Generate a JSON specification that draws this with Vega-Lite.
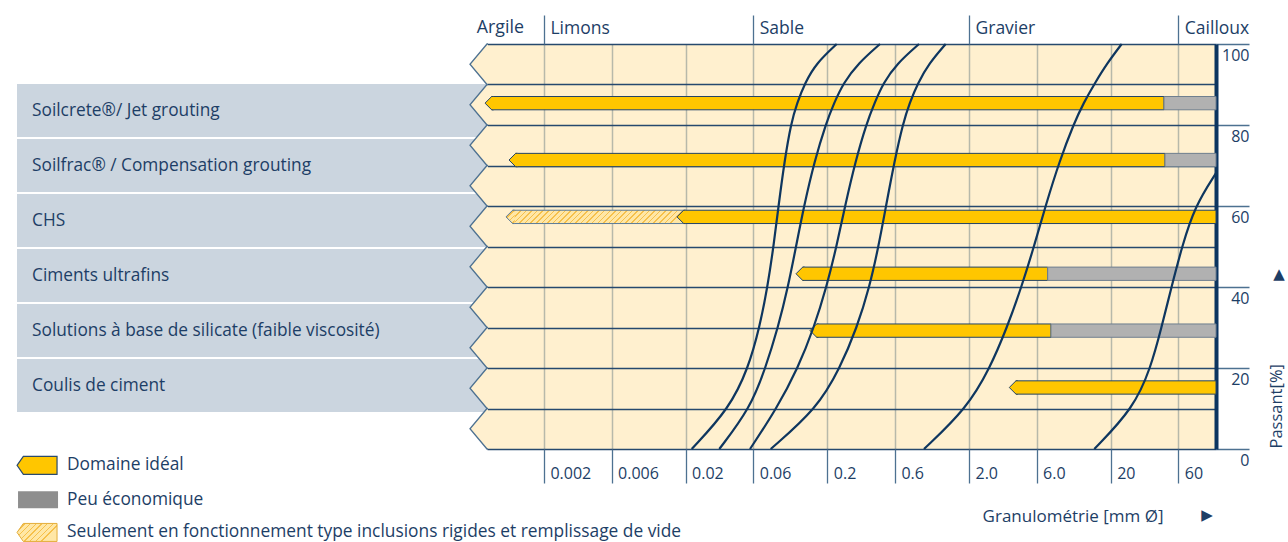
{
  "$schema": "https://vega.github.io/schema/vega-lite/v6.json",
  "width": 729,
  "height": 405,
  "autosize": {"type": "none"},
  "padding": {"left": 487, "top": 44, "right": 72, "bottom": 93},
  "background": "#ffffff",
  "config": {"view": {"fill": "#fff0cf", "stroke": null}, "text": {"font": "Open Sans"}},
  "datasets": {
    "bands": [{"mid": 5}, {"mid": 15}, {"mid": 25}, {"mid": 35}, {"mid": 45}, {"mid": 55}, {"mid": 65}, {"mid": 75}, {"mid": 85}, {"mid": 95}],
    "methods": [
      {"method": "Soilcrete®/ Jet grouting"},
      {"method": "Soilfrac® / Compensation grouting"},
      {"method": "CHS"},
      {"method": "Ciments ultrafins"},
      {"method": "Solutions à base de silicate (faible viscosité)"},
      {"method": "Coulis de ciment"}
    ],
    "bars": [
      {"method": "Soilcrete®/ Jet grouting", "type": "Domaine idéal", "from": 0.000768, "to": 47.54},
      {"method": "Soilcrete®/ Jet grouting", "type": "Peu économique", "from": 47.54, "to": 110.7},
      {"method": "Soilfrac® / Compensation grouting", "type": "Domaine idéal", "from": 0.001134, "to": 48.32},
      {"method": "Soilfrac® / Compensation grouting", "type": "Peu économique", "from": 48.32, "to": 110.7},
      {"method": "CHS", "type": "Inclusions rigides", "from": 0.00108, "to": 0.01739},
      {"method": "CHS", "type": "Domaine idéal", "from": 0.01739, "to": 110.7},
      {"method": "Ciments ultrafins", "type": "Domaine idéal", "from": 0.1203, "to": 7.184},
      {"method": "Ciments ultrafins", "type": "Peu économique", "from": 7.184, "to": 110.7},
      {"method": "Solutions à base de silicate (faible viscosité)", "type": "Domaine idéal", "from": 0.151, "to": 7.58},
      {"method": "Solutions à base de silicate (faible viscosité)", "type": "Peu économique", "from": 7.58, "to": 110.7},
      {"method": "Coulis de ciment", "type": "Domaine idéal", "from": 3.849, "to": 110.7}
    ],
    "curves": [
      {"curve": 1, "p": 0, "d": 0.02208}, {"curve": 1, "p": 10, "d": 0.04069}, {"curve": 1, "p": 20, "d": 0.0554}, {"curve": 1, "p": 30, "d": 0.06646}, {"curve": 1, "p": 40, "d": 0.07568}, {"curve": 1, "p": 50, "d": 0.08344}, {"curve": 1, "p": 60, "d": 0.09049}, {"curve": 1, "p": 71.1, "d": 0.09976}, {"curve": 1, "p": 80.4, "d": 0.1109}, {"curve": 1, "p": 85.4, "d": 0.1222}, {"curve": 1, "p": 90.4, "d": 0.1392}, {"curve": 1, "p": 95.2, "d": 0.1665}, {"curve": 1, "p": 100, "d": 0.233},
      {"curve": 2, "p": 0, "d": 0.03458}, {"curve": 2, "p": 10, "d": 0.05694}, {"curve": 2, "p": 20, "d": 0.07326}, {"curve": 2, "p": 30, "d": 0.08976}, {"curve": 2, "p": 40, "d": 0.1056}, {"curve": 2, "p": 50, "d": 0.1203}, {"curve": 2, "p": 60, "d": 0.1369}, {"curve": 2, "p": 71.1, "d": 0.1624}, {"curve": 2, "p": 80.4, "d": 0.1958}, {"curve": 2, "p": 85.4, "d": 0.223}, {"curve": 2, "p": 90.4, "d": 0.2602}, {"curve": 2, "p": 95.2, "d": 0.3293}, {"curve": 2, "p": 100, "d": 0.4709},
      {"curve": 3, "p": 0, "d": 0.05694}, {"curve": 3, "p": 10, "d": 0.08788}, {"curve": 3, "p": 20, "d": 0.1242}, {"curve": 3, "p": 30, "d": 0.1611}, {"curve": 3, "p": 40, "d": 0.1974}, {"curve": 3, "p": 50, "d": 0.2323}, {"curve": 3, "p": 60, "d": 0.2667}, {"curve": 3, "p": 71.1, "d": 0.3162}, {"curve": 3, "p": 80.4, "d": 0.3782}, {"curve": 3, "p": 85.4, "d": 0.4306}, {"curve": 3, "p": 90.4, "d": 0.4969}, {"curve": 3, "p": 95.2, "d": 0.6206}, {"curve": 3, "p": 100, "d": 0.8874},
      {"curve": 4, "p": 0, "d": 0.07972}, {"curve": 4, "p": 10, "d": 0.1692}, {"curve": 4, "p": 20, "d": 0.2459}, {"curve": 4, "p": 30, "d": 0.324}, {"curve": 4, "p": 40, "d": 0.397}, {"curve": 4, "p": 50, "d": 0.4595}, {"curve": 4, "p": 60, "d": 0.5192}, {"curve": 4, "p": 71.1, "d": 0.5959}, {"curve": 4, "p": 80.4, "d": 0.6843}, {"curve": 4, "p": 85.4, "d": 0.7605}, {"curve": 4, "p": 90.4, "d": 0.8731}, {"curve": 4, "p": 95.2, "d": 1.044}, {"curve": 4, "p": 100, "d": 1.369},
      {"curve": 5, "p": 0, "d": 0.9625}, {"curve": 5, "p": 10, "d": 1.926}, {"curve": 5, "p": 20, "d": 2.813}, {"curve": 5, "p": 30, "d": 3.709}, {"curve": 5, "p": 40, "d": 4.693}, {"curve": 5, "p": 50, "d": 5.75}, {"curve": 5, "p": 60, "d": 6.933}, {"curve": 5, "p": 71.1, "d": 8.703}, {"curve": 5, "p": 80.4, "d": 11.01}, {"curve": 5, "p": 85.4, "d": 12.85}, {"curve": 5, "p": 90.4, "d": 15.5}, {"curve": 5, "p": 95.2, "d": 18.84}, {"curve": 5, "p": 100, "d": 23.91},
      {"curve": 6, "p": 0, "d": 15.32}, {"curve": 6, "p": 10, "d": 28.87}, {"curve": 6, "p": 20, "d": 38.31}, {"curve": 6, "p": 30, "d": 45.65}, {"curve": 6, "p": 40, "d": 53.71}, {"curve": 6, "p": 50, "d": 63.7}, {"curve": 6, "p": 60, "d": 78.71}, {"curve": 6, "p": 68.1, "d": 110.7}
    ]
  },
  "resolve": {"scale": {"y": "independent"}, "axis": {"x": "independent", "y": "independent"}},
  "layer": [
    {
      "data": {"name": "methods"},
      "layer": [
        {
          "mark": {"type": "rect", "fill": "#cbd5df"},
          "encoding": {
            "y": {"field": "method", "type": "nominal", "axis": null, "scale": {"type": "band", "domain": ["Soilcrete®/ Jet grouting", "Soilfrac® / Compensation grouting", "CHS", "Ciments ultrafins", "Solutions à base de silicate (faible viscosité)", "Coulis de ciment"], "paddingInner": 0.036, "paddingOuter": 0.7, "align": 0.52}},
            "x": {"datum": 3.823e-7, "type": "quantitative", "axis": null, "scale": {"type": "log", "domain": [0.000793, 110.7], "nice": false}},
            "x2": {"datum": 0.000793}
          }
        },
        {
          "mark": {"type": "text", "align": "left", "baseline": "middle", "fontSize": 17.3, "font": "Open Sans", "color": "#1d3e66"},
          "encoding": {
            "y": {"field": "method", "type": "nominal", "axis": null, "scale": {"type": "band", "domain": ["Soilcrete®/ Jet grouting", "Soilfrac® / Compensation grouting", "CHS", "Ciments ultrafins", "Solutions à base de silicate (faible viscosité)", "Coulis de ciment"], "paddingInner": 0.036, "paddingOuter": 0.7, "align": 0.52}},
            "x": {"datum": 4.879e-7, "type": "quantitative", "axis": null, "scale": {"type": "log", "domain": [0.000793, 110.7], "nice": false}},
            "text": {"field": "method"}
          }
        }
      ]
    },
    {
      "layer": [
        {
          "data": {"name": "bands"},
          "mark": {"type": "point", "shape": "M 0.05 -1 L 0 -1 L -0.84 0 L 0 1 L 0.05 1", "size": 1640, "filled": true, "fill": "#fff0cf", "stroke": "#4d7191", "strokeWidth": 1.3, "opacity": 1},
          "encoding": {
            "x": {"datum": 0.000793, "type": "quantitative", "axis": null, "scale": {"type": "log", "domain": [0.000793, 110.7], "nice": false}},
            "y": {"field": "mid", "type": "quantitative", "axis": null, "scale": {"domain": [0, 100], "nice": false, "zero": false}}
          }
        },
        {
          "data": {"values": [{}]},
          "mark": {"type": "text", "text": "Argile", "align": "right", "baseline": "middle", "fontSize": 17.8, "font": "Open Sans", "color": "#1d3e66"},
          "encoding": {
            "x": {"datum": 0.001446, "type": "quantitative", "axis": null, "scale": {"type": "log", "domain": [0.000793, 110.7], "nice": false}},
            "y": {"datum": 103.95, "type": "quantitative", "axis": null, "scale": {"domain": [0, 100], "nice": false, "zero": false}}
          }
        },
        {
          "data": {"values": [{}]},
          "mark": {"type": "text", "text": "▲", "align": "center", "baseline": "middle", "fontSize": 15, "font": "DejaVu Sans", "color": "#1d3e66"},
          "encoding": {
            "x": {"datum": 308.1, "type": "quantitative", "axis": null, "scale": {"type": "log", "domain": [0.000793, 110.7], "nice": false}},
            "y": {"datum": 43.21, "type": "quantitative", "axis": null, "scale": {"domain": [0, 100], "nice": false, "zero": false}}
          }
        },
        {
          "data": {"values": [{}]},
          "mark": {"type": "text", "text": "▶", "align": "center", "baseline": "middle", "fontSize": 15, "font": "DejaVu Sans", "color": "#1d3e66"},
          "encoding": {
            "x": {"datum": 95.63, "type": "quantitative", "axis": null, "scale": {"type": "log", "domain": [0.000793, 110.7], "nice": false}},
            "y": {"datum": -16.3, "type": "quantitative", "axis": null, "scale": {"domain": [0, 100], "nice": false, "zero": false}}
          }
        },
        {
          "data": {"values": [{}]},
          "mark": {"type": "point", "shape": "M -2.222 0 L -1.522 -1 L 2.222 -1 L 2.222 1 L -1.522 1 Z", "size": 324, "filled": true, "fill": "#ffc600", "stroke": "#2a4a6e", "strokeWidth": 1.2, "opacity": 1},
          "encoding": {
            "x": {"datum": 5.293e-7, "type": "quantitative", "axis": null, "scale": {"type": "log", "domain": [0.000793, 110.7], "nice": false}},
            "y": {"datum": -4.02, "type": "quantitative", "axis": null, "scale": {"domain": [0, 100], "nice": false, "zero": false}}
          }
        },
        {
          "data": {"values": [{}]},
          "mark": {"type": "point", "shape": "M -2.353 -1 L 2.353 -1 L 2.353 1 L -2.353 1 Z", "size": 289, "filled": true, "fill": "#8e8e8e", "strokeWidth": 0, "opacity": 1},
          "encoding": {
            "x": {"datum": 5.379e-7, "type": "quantitative", "axis": null, "scale": {"type": "log", "domain": [0.000793, 110.7], "nice": false}},
            "y": {"datum": -12.52, "type": "quantitative", "axis": null, "scale": {"domain": [0, 100], "nice": false, "zero": false}}
          }
        },
        {
          "data": {"values": [{}]},
          "mark": {"type": "point", "shape": "M -2.222 0 L -1.522 -1 L 2.222 -1 L 2.222 1 L -1.522 1 Z", "size": 324, "filled": true, "stroke": "#e3ad3a", "strokeWidth": 1, "opacity": 1,
            "fill": {"gradient": "linear", "x1": 0, "y1": 0, "x2": 1, "y2": 0.45, "stops": [
              {"offset": 0, "color": "#ffe7a6"},
              {"offset": 0.03, "color": "#ffe7a6"}, {"offset": 0.03, "color": "#f6c04a"}, {"offset": 0.063, "color": "#f6c04a"}, {"offset": 0.063, "color": "#ffe7a6"},
              {"offset": 0.1485, "color": "#ffe7a6"}, {"offset": 0.1485, "color": "#f6c04a"}, {"offset": 0.1815, "color": "#f6c04a"}, {"offset": 0.1815, "color": "#ffe7a6"},
              {"offset": 0.267, "color": "#ffe7a6"}, {"offset": 0.267, "color": "#f6c04a"}, {"offset": 0.3, "color": "#f6c04a"}, {"offset": 0.3, "color": "#ffe7a6"},
              {"offset": 0.3855, "color": "#ffe7a6"}, {"offset": 0.3855, "color": "#f6c04a"}, {"offset": 0.4185, "color": "#f6c04a"}, {"offset": 0.4185, "color": "#ffe7a6"},
              {"offset": 0.504, "color": "#ffe7a6"}, {"offset": 0.504, "color": "#f6c04a"}, {"offset": 0.537, "color": "#f6c04a"}, {"offset": 0.537, "color": "#ffe7a6"},
              {"offset": 0.6225, "color": "#ffe7a6"}, {"offset": 0.6225, "color": "#f6c04a"}, {"offset": 0.6555, "color": "#f6c04a"}, {"offset": 0.6555, "color": "#ffe7a6"},
              {"offset": 0.741, "color": "#ffe7a6"}, {"offset": 0.741, "color": "#f6c04a"}, {"offset": 0.774, "color": "#f6c04a"}, {"offset": 0.774, "color": "#ffe7a6"},
              {"offset": 0.8595, "color": "#ffe7a6"}, {"offset": 0.8595, "color": "#f6c04a"}, {"offset": 0.8925, "color": "#f6c04a"}, {"offset": 0.8925, "color": "#ffe7a6"},
              {"offset": 1, "color": "#ffe7a6"}
            ]}},
          "encoding": {
            "x": {"datum": 5.293e-7, "type": "quantitative", "axis": null, "scale": {"type": "log", "domain": [0.000793, 110.7], "nice": false}},
            "y": {"datum": -20.6, "type": "quantitative", "axis": null, "scale": {"domain": [0, 100], "nice": false, "zero": false}}
          }
        },
        {
          "data": {"values": [{}]},
          "mark": {"type": "text", "text": "Domaine idéal", "align": "left", "baseline": "middle", "fontSize": 17.35, "font": "Open Sans", "color": "#1d3e66"},
          "encoding": {
            "x": {"datum": 8.615e-7, "type": "quantitative", "axis": null, "scale": {"type": "log", "domain": [0.000793, 110.7], "nice": false}},
            "y": {"datum": -3.95, "type": "quantitative", "axis": null, "scale": {"domain": [0, 100], "nice": false, "zero": false}}
          }
        },
        {
          "data": {"values": [{}]},
          "mark": {"type": "text", "text": "Peu économique", "align": "left", "baseline": "middle", "fontSize": 17.35, "font": "Open Sans", "color": "#1d3e66"},
          "encoding": {
            "x": {"datum": 8.615e-7, "type": "quantitative", "axis": null, "scale": {"type": "log", "domain": [0.000793, 110.7], "nice": false}},
            "y": {"datum": -12.6, "type": "quantitative", "axis": null, "scale": {"domain": [0, 100], "nice": false, "zero": false}}
          }
        },
        {
          "data": {"values": [{}]},
          "mark": {"type": "text", "text": "Seulement en fonctionnement type inclusions rigides et remplissage de vide", "align": "left", "baseline": "middle", "fontSize": 17.35, "font": "Open Sans", "color": "#1d3e66"},
          "encoding": {
            "x": {"datum": 8.615e-7, "type": "quantitative", "axis": null, "scale": {"type": "log", "domain": [0.000793, 110.7], "nice": false}},
            "y": {"datum": -20.55, "type": "quantitative", "axis": null, "scale": {"domain": [0, 100], "nice": false, "zero": false}}
          }
        }
      ]
    },
    {
      "data": {"name": "bars"},
      "transform": [{"filter": {"field": "type", "equal": "Inclusions rigides"}}],
      "mark": {"type": "rect", "xOffset": 6.65, "x2Offset": 6.65, "stroke": "#5b7b98", "strokeWidth": 1,
        "fill": {"gradient": "linear", "x1": 0, "y1": 0, "x2": 1, "y2": 0.0778, "stops": [
          {"offset": 0, "color": "#ffe7a6"},
          {"offset": 0.012, "color": "#ffe7a6"}, {"offset": 0.012, "color": "#f6c04a"}, {"offset": 0.021, "color": "#f6c04a"}, {"offset": 0.021, "color": "#ffe7a6"},
          {"offset": 0.0445, "color": "#ffe7a6"}, {"offset": 0.0445, "color": "#f6c04a"}, {"offset": 0.0535, "color": "#f6c04a"}, {"offset": 0.0535, "color": "#ffe7a6"},
          {"offset": 0.077, "color": "#ffe7a6"}, {"offset": 0.077, "color": "#f6c04a"}, {"offset": 0.086, "color": "#f6c04a"}, {"offset": 0.086, "color": "#ffe7a6"},
          {"offset": 0.1095, "color": "#ffe7a6"}, {"offset": 0.1095, "color": "#f6c04a"}, {"offset": 0.1185, "color": "#f6c04a"}, {"offset": 0.1185, "color": "#ffe7a6"},
          {"offset": 0.142, "color": "#ffe7a6"}, {"offset": 0.142, "color": "#f6c04a"}, {"offset": 0.151, "color": "#f6c04a"}, {"offset": 0.151, "color": "#ffe7a6"},
          {"offset": 0.1745, "color": "#ffe7a6"}, {"offset": 0.1745, "color": "#f6c04a"}, {"offset": 0.1835, "color": "#f6c04a"}, {"offset": 0.1835, "color": "#ffe7a6"},
          {"offset": 0.207, "color": "#ffe7a6"}, {"offset": 0.207, "color": "#f6c04a"}, {"offset": 0.216, "color": "#f6c04a"}, {"offset": 0.216, "color": "#ffe7a6"},
          {"offset": 0.2395, "color": "#ffe7a6"}, {"offset": 0.2395, "color": "#f6c04a"}, {"offset": 0.2485, "color": "#f6c04a"}, {"offset": 0.2485, "color": "#ffe7a6"},
          {"offset": 0.272, "color": "#ffe7a6"}, {"offset": 0.272, "color": "#f6c04a"}, {"offset": 0.281, "color": "#f6c04a"}, {"offset": 0.281, "color": "#ffe7a6"},
          {"offset": 0.3045, "color": "#ffe7a6"}, {"offset": 0.3045, "color": "#f6c04a"}, {"offset": 0.3135, "color": "#f6c04a"}, {"offset": 0.3135, "color": "#ffe7a6"},
          {"offset": 0.337, "color": "#ffe7a6"}, {"offset": 0.337, "color": "#f6c04a"}, {"offset": 0.346, "color": "#f6c04a"}, {"offset": 0.346, "color": "#ffe7a6"},
          {"offset": 0.3695, "color": "#ffe7a6"}, {"offset": 0.3695, "color": "#f6c04a"}, {"offset": 0.3785, "color": "#f6c04a"}, {"offset": 0.3785, "color": "#ffe7a6"},
          {"offset": 0.402, "color": "#ffe7a6"}, {"offset": 0.402, "color": "#f6c04a"}, {"offset": 0.411, "color": "#f6c04a"}, {"offset": 0.411, "color": "#ffe7a6"},
          {"offset": 0.4345, "color": "#ffe7a6"}, {"offset": 0.4345, "color": "#f6c04a"}, {"offset": 0.4435, "color": "#f6c04a"}, {"offset": 0.4435, "color": "#ffe7a6"},
          {"offset": 0.467, "color": "#ffe7a6"}, {"offset": 0.467, "color": "#f6c04a"}, {"offset": 0.476, "color": "#f6c04a"}, {"offset": 0.476, "color": "#ffe7a6"},
          {"offset": 0.4995, "color": "#ffe7a6"}, {"offset": 0.4995, "color": "#f6c04a"}, {"offset": 0.5085, "color": "#f6c04a"}, {"offset": 0.5085, "color": "#ffe7a6"},
          {"offset": 0.532, "color": "#ffe7a6"}, {"offset": 0.532, "color": "#f6c04a"}, {"offset": 0.541, "color": "#f6c04a"}, {"offset": 0.541, "color": "#ffe7a6"},
          {"offset": 0.5645, "color": "#ffe7a6"}, {"offset": 0.5645, "color": "#f6c04a"}, {"offset": 0.5735, "color": "#f6c04a"}, {"offset": 0.5735, "color": "#ffe7a6"},
          {"offset": 0.597, "color": "#ffe7a6"}, {"offset": 0.597, "color": "#f6c04a"}, {"offset": 0.606, "color": "#f6c04a"}, {"offset": 0.606, "color": "#ffe7a6"},
          {"offset": 0.6295, "color": "#ffe7a6"}, {"offset": 0.6295, "color": "#f6c04a"}, {"offset": 0.6385, "color": "#f6c04a"}, {"offset": 0.6385, "color": "#ffe7a6"},
          {"offset": 0.662, "color": "#ffe7a6"}, {"offset": 0.662, "color": "#f6c04a"}, {"offset": 0.671, "color": "#f6c04a"}, {"offset": 0.671, "color": "#ffe7a6"},
          {"offset": 0.6945, "color": "#ffe7a6"}, {"offset": 0.6945, "color": "#f6c04a"}, {"offset": 0.7035, "color": "#f6c04a"}, {"offset": 0.7035, "color": "#ffe7a6"},
          {"offset": 0.727, "color": "#ffe7a6"}, {"offset": 0.727, "color": "#f6c04a"}, {"offset": 0.736, "color": "#f6c04a"}, {"offset": 0.736, "color": "#ffe7a6"},
          {"offset": 0.7595, "color": "#ffe7a6"}, {"offset": 0.7595, "color": "#f6c04a"}, {"offset": 0.7685, "color": "#f6c04a"}, {"offset": 0.7685, "color": "#ffe7a6"},
          {"offset": 0.792, "color": "#ffe7a6"}, {"offset": 0.792, "color": "#f6c04a"}, {"offset": 0.801, "color": "#f6c04a"}, {"offset": 0.801, "color": "#ffe7a6"},
          {"offset": 0.8245, "color": "#ffe7a6"}, {"offset": 0.8245, "color": "#f6c04a"}, {"offset": 0.8335, "color": "#f6c04a"}, {"offset": 0.8335, "color": "#ffe7a6"},
          {"offset": 0.857, "color": "#ffe7a6"}, {"offset": 0.857, "color": "#f6c04a"}, {"offset": 0.866, "color": "#f6c04a"}, {"offset": 0.866, "color": "#ffe7a6"},
          {"offset": 0.8895, "color": "#ffe7a6"}, {"offset": 0.8895, "color": "#f6c04a"}, {"offset": 0.8985, "color": "#f6c04a"}, {"offset": 0.8985, "color": "#ffe7a6"},
          {"offset": 0.922, "color": "#ffe7a6"}, {"offset": 0.922, "color": "#f6c04a"}, {"offset": 0.931, "color": "#f6c04a"}, {"offset": 0.931, "color": "#ffe7a6"},
          {"offset": 0.9545, "color": "#ffe7a6"}, {"offset": 0.9545, "color": "#f6c04a"}, {"offset": 0.9635, "color": "#f6c04a"}, {"offset": 0.9635, "color": "#ffe7a6"},
          {"offset": 0.987, "color": "#ffe7a6"}, {"offset": 0.987, "color": "#f6c04a"}, {"offset": 0.996, "color": "#f6c04a"}, {"offset": 0.996, "color": "#ffe7a6"},
          {"offset": 1, "color": "#ffe7a6"}
        ]}},
      "encoding": {
        "x": {"field": "from", "type": "quantitative", "axis": null, "scale": {"type": "log", "domain": [0.000793, 110.7], "nice": false}},
        "x2": {"field": "to"},
        "y": {"field": "method", "type": "nominal", "axis": null, "scale": {"type": "band", "domain": ["Soilcrete®/ Jet grouting", "Soilfrac® / Compensation grouting", "CHS", "Ciments ultrafins", "Solutions à base de silicate (faible viscosité)", "Coulis de ciment"], "paddingInner": 0.766, "paddingOuter": 0.944, "align": 0.489}}
      }
    },
    {
      "data": {"name": "bars"},
      "transform": [{"filter": {"field": "type", "equal": "Domaine idéal"}}],
      "mark": {"type": "rect", "xOffset": 6.65, "fill": "#ffc600", "stroke": "#234468", "strokeWidth": 1},
      "encoding": {
        "x": {"field": "from", "type": "quantitative", "scale": {"type": "log", "domain": [0.000793, 110.7], "nice": false},
          "axis": {"orient": "top", "values": [0.002, 0.06, 2, 60], "labelExpr": "datum.value < 0.01 ? 'Limons' : datum.value < 1 ? 'Sable' : datum.value < 10 ? 'Gravier' : 'Cailloux'", "grid": false, "domain": false, "ticks": true, "tickSize": 29, "tickColor": "#4d7191", "tickWidth": 1.3, "labelAlign": "left", "labelBaseline": "middle", "labelPadding": -13, "labelOffset": 6, "labelFont": "Open Sans", "labelFontSize": 17.5, "labelColor": "#1d3e66", "labelOverlap": false, "labelBound": false, "labelFlush": false, "title": null}},
        "x2": {"field": "to"},
        "y": {"field": "method", "type": "nominal", "axis": null, "scale": {"type": "band", "domain": ["Soilcrete®/ Jet grouting", "Soilfrac® / Compensation grouting", "CHS", "Ciments ultrafins", "Solutions à base de silicate (faible viscosité)", "Coulis de ciment"], "paddingInner": 0.766, "paddingOuter": 0.944, "align": 0.489}}
      }
    },
    {
      "data": {"name": "bars"},
      "transform": [{"filter": {"field": "type", "equal": "Peu économique"}}],
      "mark": {"type": "rect", "fill": "#b1b1b1", "stroke": "#6f7f8f", "strokeWidth": 1},
      "encoding": {
        "x": {"field": "from", "type": "quantitative", "axis": null, "scale": {"type": "log", "domain": [0.000793, 110.7], "nice": false}},
        "x2": {"field": "to"},
        "y": {"field": "method", "type": "nominal", "axis": null, "scale": {"type": "band", "domain": ["Soilcrete®/ Jet grouting", "Soilfrac® / Compensation grouting", "CHS", "Ciments ultrafins", "Solutions à base de silicate (faible viscosité)", "Coulis de ciment"], "paddingInner": 0.766, "paddingOuter": 0.944, "align": 0.489}}
      }
    },
    {
      "data": {"name": "bars"},
      "transform": [{"filter": {"field": "type", "equal": "Inclusions rigides"}}],
      "mark": {"type": "point", "shape": "M 0.3 -1 L 0 -1 L -1 0 L 0 1 L 0.3 1", "size": 177, "xOffset": 6.65, "filled": true, "stroke": "#5b7b98", "strokeWidth": 1, "opacity": 1,
        "fill": {"gradient": "linear", "x1": 0, "y1": 0, "x2": 1, "y2": 1.538, "stops": [
          {"offset": 0, "color": "#ffe7a6"},
          {"offset": 0.05, "color": "#ffe7a6"}, {"offset": 0.05, "color": "#f6c04a"}, {"offset": 0.105, "color": "#f6c04a"}, {"offset": 0.105, "color": "#ffe7a6"},
          {"offset": 0.246, "color": "#ffe7a6"}, {"offset": 0.246, "color": "#f6c04a"}, {"offset": 0.301, "color": "#f6c04a"}, {"offset": 0.301, "color": "#ffe7a6"},
          {"offset": 0.442, "color": "#ffe7a6"}, {"offset": 0.442, "color": "#f6c04a"}, {"offset": 0.497, "color": "#f6c04a"}, {"offset": 0.497, "color": "#ffe7a6"},
          {"offset": 0.638, "color": "#ffe7a6"}, {"offset": 0.638, "color": "#f6c04a"}, {"offset": 0.693, "color": "#f6c04a"}, {"offset": 0.693, "color": "#ffe7a6"},
          {"offset": 0.834, "color": "#ffe7a6"}, {"offset": 0.834, "color": "#f6c04a"}, {"offset": 0.889, "color": "#f6c04a"}, {"offset": 0.889, "color": "#ffe7a6"},
          {"offset": 1, "color": "#ffe7a6"}
        ]}},
      "encoding": {
        "x": {"field": "from", "type": "quantitative", "axis": null, "scale": {"type": "log", "domain": [0.000793, 110.7], "nice": false}},
        "y": {"field": "method", "type": "nominal", "axis": null, "scale": {"type": "band", "domain": ["Soilcrete®/ Jet grouting", "Soilfrac® / Compensation grouting", "CHS", "Ciments ultrafins", "Solutions à base de silicate (faible viscosité)", "Coulis de ciment"], "paddingInner": 0.766, "paddingOuter": 0.944, "align": 0.489}}
      }
    },
    {
      "data": {"name": "bars"},
      "transform": [{"filter": {"field": "type", "equal": "Domaine idéal"}}],
      "mark": {"type": "point", "shape": "M 0.3 -1 L 0 -1 L -1 0 L 0 1 L 0.3 1", "size": 177, "xOffset": 6.65, "filled": true, "fill": "#ffc600", "stroke": "#234468", "strokeWidth": 1, "opacity": 1},
      "encoding": {
        "x": {"field": "from", "type": "quantitative", "axis": null, "scale": {"type": "log", "domain": [0.000793, 110.7], "nice": false}},
        "y": {"field": "method", "type": "nominal", "axis": null, "scale": {"type": "band", "domain": ["Soilcrete®/ Jet grouting", "Soilfrac® / Compensation grouting", "CHS", "Ciments ultrafins", "Solutions à base de silicate (faible viscosité)", "Coulis de ciment"], "paddingInner": 0.766, "paddingOuter": 0.944, "align": 0.489}}
      }
    },
    {
      "data": {"name": "curves"},
      "mark": {"type": "line", "interpolate": "basis", "color": "#0e365f", "strokeWidth": 2.2},
      "encoding": {
        "x": {"field": "d", "type": "quantitative", "scale": {"type": "log", "domain": [0.000793, 110.7], "nice": false},
          "axis": {"orient": "bottom", "values": [0.002, 0.006, 0.02, 0.06, 0.2, 0.6, 2, 6, 20, 60], "format": "~g", "labelExpr": "datum.value == 2 ? '2.0' : datum.value == 6 ? '6.0' : datum.label", "grid": true, "gridColor": "#b7b9aa", "gridWidth": 1.5, "gridOpacity": 1, "domain": false, "ticks": true, "tickSize": 34, "tickColor": "#4d7191", "tickWidth": 1.3, "labelAlign": "left", "labelBaseline": "middle", "labelPadding": -10, "labelOffset": 6, "labelFont": "Open Sans", "labelFontSize": 16, "labelColor": "#1d3e66", "labelOverlap": false, "labelBound": false, "labelFlush": false, "title": "Granulométrie [mm Ø]", "titleX": 676, "titleY": 67, "titleAlign": "right", "titleBaseline": "middle", "titleAngle": 0, "titleFont": "Open Sans", "titleFontSize": 17, "titleFontWeight": "normal", "titleColor": "#1d3e66"}},
        "y": {"field": "p", "type": "quantitative", "scale": {"domain": [0, 100], "nice": false, "zero": false},
          "axis": {"orient": "right", "values": [0, 10, 20, 30, 40, 50, 60, 70, 80, 90, 100], "grid": true, "gridColor": "#26496e", "gridWidth": 1.3, "gridOpacity": 1, "domain": true, "domainColor": "#0c3560", "domainWidth": 4, "ticks": true, "tickSize": 33, "tickColor": "#4d7191", "tickWidth": 1.3, "tickOpacity": {"condition": {"test": "datum.value % 20 !== 0", "value": 0}, "value": 1}, "labelExpr": "datum.value % 20 === 0 ? datum.label : ''", "labelAlign": "right", "labelBaseline": "middle", "labelPadding": 0, "labelOffset": 11, "labelFont": "Open Sans", "labelFontSize": 16, "labelColor": "#1d3e66", "labelOverlap": false, "labelBound": false, "labelFlush": false, "title": "Passant[%]", "titleAngle": 270, "titleX": 60, "titleY": 404, "titleAlign": "left", "titleBaseline": "middle", "titleFont": "Open Sans", "titleFontSize": 16.5, "titleFontWeight": "normal", "titleColor": "#1d3e66"}},
        "detail": {"field": "curve", "type": "nominal"}
      }
    }
  ]
}
